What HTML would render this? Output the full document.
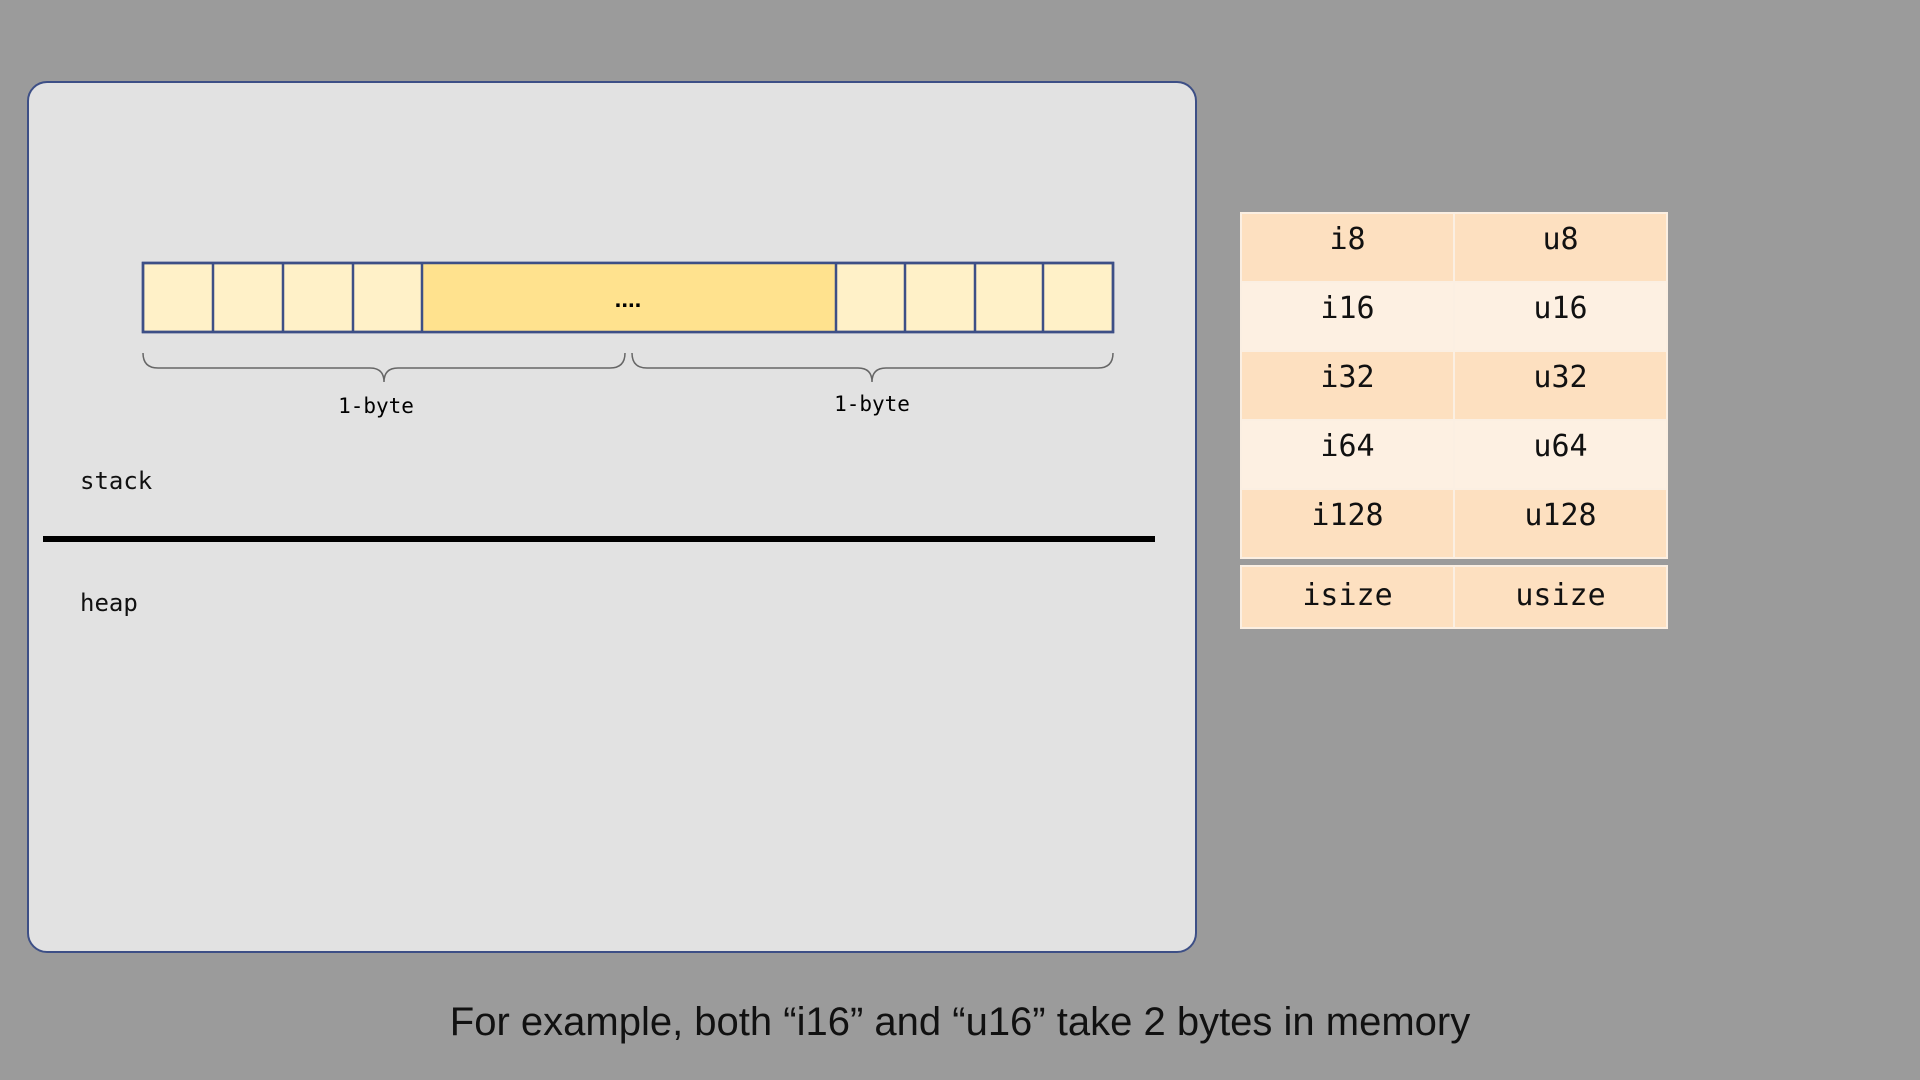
<!DOCTYPE html>
<html><head><meta charset="utf-8"><style>
html,body{margin:0;padding:0;}
body{width:1920px;height:1080px;background:#9b9b9b;position:relative;overflow:hidden;font-family:"DejaVu Sans Mono","Liberation Mono",monospace;}
.panel{position:absolute;left:27px;top:81px;width:1166px;height:868px;background:#e2e2e2;border:2px solid #3d4f86;border-radius:20px;}
.lbl{position:absolute;color:#111;font-size:24px;}
table{position:absolute;border-collapse:collapse;}
td{border:2px solid #fbefe2;width:211px;text-align:center;font-size:30px;color:#111;padding:0;}
.r td{padding-bottom:16px;}
.a{background:#fde0c0;}
.b{background:#fdf0e2;}
.cap{position:absolute;left:0;width:1920px;top:1000px;text-align:center;font-family:"Liberation Sans",sans-serif;font-size:40px;color:#111;}
</style></head><body>
<div class="panel"></div>
<svg width="1920" height="1080" style="position:absolute;left:0;top:0">
<rect x="143" y="263" width="970" height="69" fill="#fff1c8" stroke="#3d4f86" stroke-width="2.5"/>
<rect x="422" y="263" width="414" height="69" fill="#ffe28e"/>
<g stroke="#3d4f86" stroke-width="2.5">
<line x1="213" y1="263" x2="213" y2="332"/><line x1="283" y1="263" x2="283" y2="332"/><line x1="353" y1="263" x2="353" y2="332"/><line x1="422" y1="263" x2="422" y2="332"/>
<line x1="836" y1="263" x2="836" y2="332"/><line x1="905" y1="263" x2="905" y2="332"/><line x1="975" y1="263" x2="975" y2="332"/><line x1="1043" y1="263" x2="1043" y2="332"/>
<rect x="143" y="263" width="970" height="69" fill="none"/>
</g>
<text x="628" y="307" font-size="24" text-anchor="middle" font-family="Liberation Sans" font-weight="bold">....</text>
<g fill="none" stroke="#666" stroke-width="1.5">
<path d="M143 353 Q143 368 158 368 L370 368 Q384 368 384 382 Q384 368 398 368 L610 368 Q625 368 625 353"/>
<path d="M632 353 Q632 368 647 368 L858 368 Q872 368 872 382 Q872 368 886 368 L1098 368 Q1113 368 1113 353"/>
</g>
<text x="376" y="413" font-size="21" text-anchor="middle" font-family="DejaVu Sans Mono">1-byte</text>
<text x="872" y="411" font-size="21" text-anchor="middle" font-family="DejaVu Sans Mono">1-byte</text>
<line x1="43" y1="539" x2="1155" y2="539" stroke="#000" stroke-width="6"/>
</svg>
<div class="lbl" style="left:80px;top:467px">stack</div>
<div class="lbl" style="left:80px;top:589px">heap</div>
<table style="left:1240px;top:212px">
<tr class="r" style="height:69px"><td class="a">i8</td><td class="a">u8</td></tr>
<tr class="r" style="height:69px"><td class="b">i16</td><td class="b">u16</td></tr>
<tr class="r" style="height:69px"><td class="a">i32</td><td class="a">u32</td></tr>
<tr class="r" style="height:69px"><td class="b">i64</td><td class="b">u64</td></tr>
<tr class="r" style="height:69px"><td class="a">i128</td><td class="a">u128</td></tr>
</table>
<table style="left:1240px;top:565px">
<tr style="height:62px"><td class="a" style="padding-bottom:4px">isize</td><td class="a" style="padding-bottom:4px">usize</td></tr>
</table>
<div class="cap">For example, both “i16” and “u16” take 2 bytes in memory</div>
</body></html>
